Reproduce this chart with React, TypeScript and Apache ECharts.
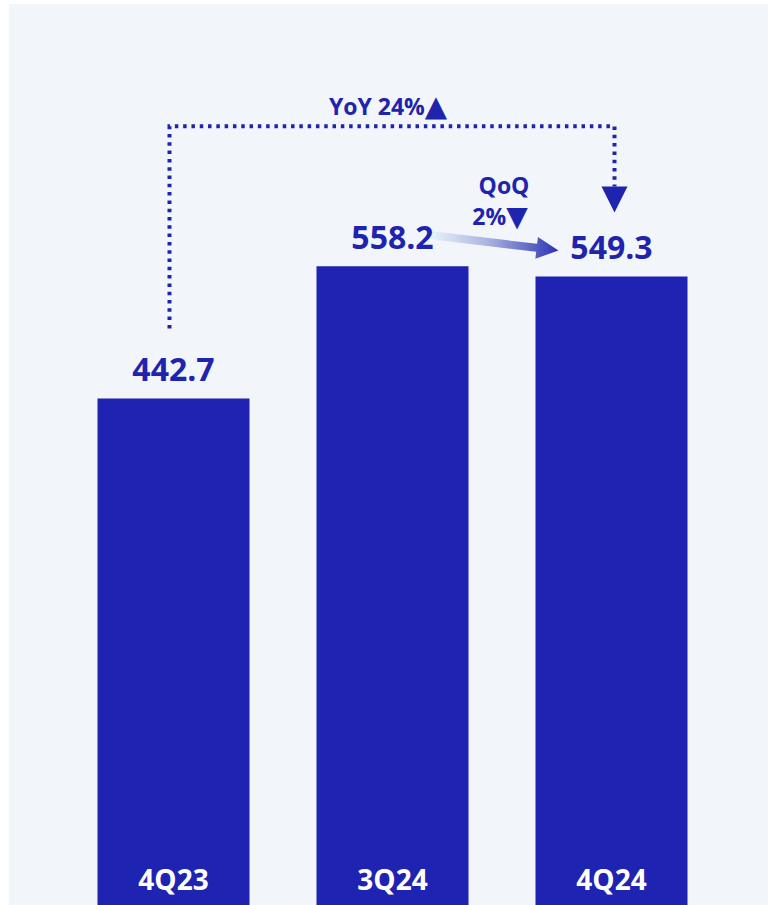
import React, { useEffect, useRef } from "react";
import * as echarts from "echarts";

const categories = ["4Q23", "3Q24", "4Q24"];
const revenue = [442.7, 558.2, 549.3];
const yoyText = "YoY 24%";
const yoyMark = "▲";
const qoqTitle = "QoQ";
const qoqText = "2%";
const qoqMark = "▼";

const BAR = "#1f23b1";
const INK = "#1f24ae";
const FONT = "'Open Sans', 'Noto Sans', sans-serif";

export default function App() {
  const ref = useRef<HTMLDivElement>(null);
  useEffect(() => {
    const el = ref.current!;
    const chart = echarts.init(el, null, { renderer: "svg" });
    chart.setOption({
      animation: false,
      backgroundColor: "#f2f6fa",
      grid: { left: 55, width: 657, top: 100, bottom: -5 },
      xAxis: {
        type: "category",
        data: categories,
        axisLine: { show: false },
        axisTick: { show: false },
        axisLabel: {
          inside: true,
          margin: 12,
          color: "#ffffff",
          fontSize: 28,
          fontWeight: "bold",
          fontFamily: FONT,
        },
        z: 10,
      },
      yAxis: { type: "value", min: 0, max: 700, show: false, splitLine: { show: false } },
      series: [
        {
          type: "bar",
          data: revenue,
          barWidth: 152,
          itemStyle: { color: BAR },
          label: {
            show: true,
            position: "top",
            distance: 14,
            color: INK,
            fontSize: 32,
            fontWeight: "bold",
            fontFamily: FONT,
            formatter: (p: any) => p.value.toFixed(1),
          },
        },
      ],
    });

    const px = (i: number) => chart.convertToPixel({ seriesIndex: 0 }, [i, revenue[i]]) as number[];
    const b1 = px(0);
    const b2 = px(1);
    const b3 = px(2);

    const dotted = { stroke: INK, lineWidth: 4, lineDash: [3.5, 4.8], fill: "none" };
    const lineY = b2[1] - 140;
    const leftX = b1[0] - 4;
    const rightX = b3[0] + 3;
    const headTop = b3[1] - 90;
    const headTip = b3[1] - 64;

    // gradient arrow
    const S = [b2[0] + 39, b2[1] - 31];
    const T = [b3[0] - 53, b3[1] - 26];
    const dx = T[0] - S[0];
    const dy = T[1] - S[1];
    const len = Math.hypot(dx, dy);
    const ux = dx / len, uy = dy / len;
    const nx = -uy, ny = ux;
    const hw = 4, hh = 11, hl = 22;
    const B = [T[0] - ux * hl, T[1] - uy * hl];
    const arrowPts = [
      [S[0] + nx * hw, S[1] + ny * hw],
      [B[0] + nx * hw, B[1] + ny * hw],
      [B[0] + nx * hh, B[1] + ny * hh],
      [T[0], T[1]],
      [B[0] - nx * hh, B[1] - ny * hh],
      [B[0] - nx * hw, B[1] - ny * hw],
      [S[0] - nx * hw, S[1] - ny * hw],
    ];

    const qoqX = (b2[0] + b3[0]) / 2;
    const txt = (size: number) => ({ fill: INK, fontSize: size, fontWeight: "bold", fontFamily: FONT });
    const mark = (size: number) => ({ fill: INK, fontSize: size, fontFamily: "'DejaVu Sans', sans-serif", verticalAlign: "middle" });

    chart.setOption({
      graphic: [
        {
          type: "polyline",
          shape: { points: [[leftX, b1[1] - 70], [leftX, lineY], [rightX, lineY], [rightX, headTop]] },
          style: dotted,
        },
        {
          type: "polygon",
          shape: { points: [[rightX - 13, headTop], [rightX + 13, headTop], [rightX, headTip]] },
          style: { fill: INK },
        },
        {
          type: "text",
          x: (leftX + rightX) / 2 - 4,
          y: lineY - 20,
          style: {
            text: `{t|${yoyText}}{m|${yoyMark}}`,
            align: "center",
            verticalAlign: "middle",
            rich: { t: txt(23), m: mark(29) },
          },
        },
        {
          type: "text",
          x: qoqX + 2,
          y: b2[1] - 81,
          style: {
            text: qoqTitle,
            ...txt(23),
            align: "center",
            verticalAlign: "middle",
          },
        },
        {
          type: "text",
          x: qoqX - 2,
          y: b2[1] - 50,
          style: {
            text: `{t|${qoqText}}{m|${qoqMark}}`,
            align: "center",
            verticalAlign: "middle",
            rich: { t: txt(23), m: mark(28) },
          },
        },
        {
          type: "polygon",
          shape: { points: arrowPts },
          style: {
            fill: new echarts.graphic.LinearGradient(0, 0, 1, 0, [
              { offset: 0, color: "#e8f2fb" },
              { offset: 0.45, color: "#a9b3e0" },
              { offset: 1, color: "#2f33b3" },
            ]),
          },
        },
      ],
    });

    return () => chart.dispose();
  }, []);

  return (
    <div style={{ position: "fixed", left: 0, top: 0, width: 768, height: 905, background: "#ffffff", overflow: "hidden" }}>
      <div ref={ref} style={{ position: "absolute", left: 9, top: 4, width: 759, height: 901 }} />
    </div>
  );
}
